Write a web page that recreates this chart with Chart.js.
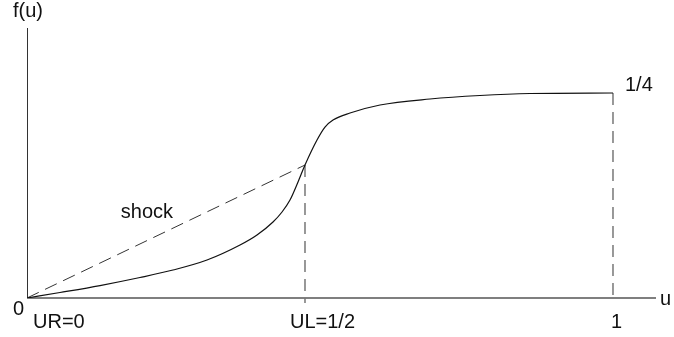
<!DOCTYPE html>
<html>
<head>
<meta charset="utf-8">
<script src="https://cdn.jsdelivr.net/npm/chart.js@4"></script>
<style>
    body { margin: 0; background: #fff; }
    #chart { display: block; }
</style>
</head>
<body>
<canvas id="chart" width="674" height="337"></canvas>
<script>
// Flux curve f(u) (u in sketch units, 1 = right dashed line)
const curveU = [0, 0.0563, 0.1246, 0.1928, 0.2491, 0.3072, 0.3635, 0.3925, 0.4198, 0.4352, 0.4488,
                0.4625, 0.4744, 0.4949, 0.5085, 0.5222, 0.5512, 0.6024, 0.6877, 0.773, 0.8584, 1];
const curveF = [0, 0.0067, 0.0152, 0.025, 0.0341, 0.0463, 0.0646, 0.0768, 0.0927, 0.1049, 0.1195,
                0.1415, 0.1622, 0.1927, 0.2085, 0.2171, 0.2256, 0.2354, 0.2427, 0.247, 0.2494, 0.25];

// Shock chord from UR to UL
const shockU = [0, 0.4744];
const shockF = [0, 0.1622];

// Vertical guides
const guideUL = [0.4744, 0.1622];
const guideOne = [1, 0.25];

// Axis ticks
const tickValues = [0, 0.4744, 1];
const tickLabels = ['UR=0', 'UL=1/2', '1'];

const uMax = 1.0734;
const fMax = 0.3293;

function toPoints(xs, ys) {
    return xs.map((x, i) => ({ x: x, y: ys[i] }));
}

const FONT = '20px "Liberation Sans", Arial, sans-serif';

const sketchPlugin = {
    id: 'sketch',
    beforeDatasetsDraw(chart) {
        const ctx = chart.ctx;
        const xs = chart.scales.x, ys = chart.scales.y;
        const x0 = xs.getPixelForValue(0), y0 = ys.getPixelForValue(0);
        ctx.save();
        ctx.lineWidth = 1;
        ctx.strokeStyle = '#333';
        ctx.beginPath();
        ctx.moveTo(x0 + 0.5, ys.getPixelForValue(fMax));
        ctx.lineTo(x0 + 0.5, y0);
        ctx.stroke();
        ctx.lineWidth = 1.5;
        ctx.strokeStyle = '#555';
        ctx.beginPath();
        ctx.moveTo(x0, y0);
        ctx.lineTo(xs.getPixelForValue(uMax), y0);
        ctx.stroke();
        ctx.restore();
    },
    afterDraw(chart) {
        const ctx = chart.ctx;
        const xs = chart.scales.x, ys = chart.scales.y;
        const x0 = xs.getPixelForValue(0), y0 = ys.getPixelForValue(0);
        ctx.save();
        ctx.font = FONT;
        ctx.fillStyle = '#111';
        ctx.textBaseline = 'alphabetic';
        ctx.textAlign = 'left';
        // tick labels under the u axis
        const offsets = [6, -15, -2];
        tickValues.forEach((v, i) => {
            ctx.fillText(tickLabels[i], xs.getPixelForValue(v) + offsets[i], y0 + 30);
        });
        ctx.fillText('0', x0 - 14, y0 + 17);
        ctx.fillText('u', xs.getPixelForValue(uMax) + 4, y0 + 7);
        ctx.fillText('f(u)', x0 - 14, ys.getPixelForValue(fMax) - 11);
        ctx.fillText('1/4', xs.getPixelForValue(guideOne[0]) + 12, ys.getPixelForValue(guideOne[1]) - 2);
        ctx.fillText('shock', xs.getPixelForValue(0.16), ys.getPixelForValue(0.0976));
        ctx.restore();
    }
};

new Chart(document.getElementById('chart'), {
    type: 'scatter',
    data: {
        datasets: [
            {
                data: toPoints(curveU, curveF),
                showLine: true,
                borderColor: '#111',
                borderWidth: 1.2,
                pointRadius: 0,
                cubicInterpolationMode: 'monotone'
            },
            {
                data: toPoints(shockU, shockF),
                showLine: true,
                borderColor: '#333',
                borderWidth: 1,
                borderDash: [13, 7],
                pointRadius: 0
            },
            {
                data: [{ x: guideUL[0], y: guideUL[1] }, { x: guideUL[0], y: -0.006 }],
                showLine: true,
                borderColor: '#777',
                borderWidth: 1.5,
                borderDash: [12, 7],
                pointRadius: 0,
                clip: false
            },
            {
                data: [{ x: guideOne[0], y: guideOne[1] }, { x: guideOne[0], y: -0.004 }],
                showLine: true,
                borderColor: '#777',
                borderWidth: 1.5,
                borderDash: [12, 7],
                pointRadius: 0,
                clip: false
            }
        ]
    },
    options: {
        responsive: false,
        animation: false,
        layout: { padding: { left: 27, top: 28, right: 18, bottom: 39 } },
        plugins: {
            legend: { display: false },
            tooltip: { enabled: false }
        },
        scales: {
            x: { type: 'linear', min: 0, max: uMax, display: false },
            y: { type: 'linear', min: 0, max: fMax, display: false }
        }
    },
    plugins: [sketchPlugin]
});
</script>
</body>
</html>
